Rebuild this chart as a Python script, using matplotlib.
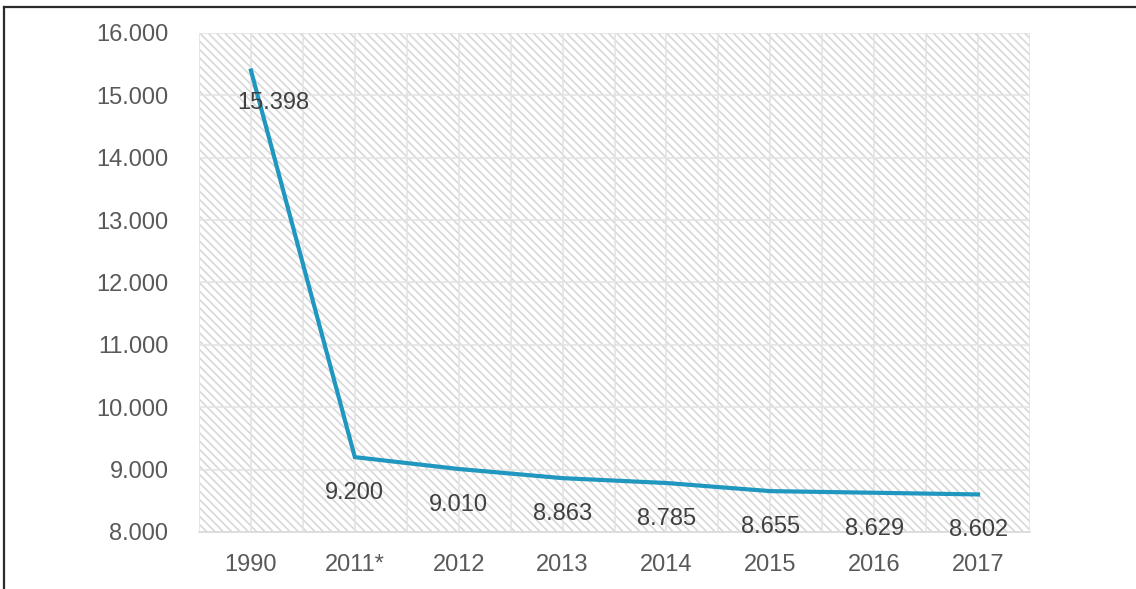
import matplotlib
matplotlib.use("Agg")
import matplotlib.pyplot as plt
import matplotlib.patches as mpatches
from matplotlib.lines import Line2D
from matplotlib.ticker import FuncFormatter
import numpy as np

# Werte je Jahr
years = ["1990", "2011*", "2012", "2013", "2014", "2015", "2016", "2017"]
values = [15398, 9200, 9010, 8863, 8785, 8655, 8629, 8602]

LINE_COLOR = "#1f97bf"
TEXT_COLOR = "#595959"
GRID_COLOR = "#e4e4e4"
HATCH_COLOR = "#d8d8d8"

plt.rcParams["font.family"] = ["Liberation Sans", "DejaVu Sans"]
plt.rcParams["hatch.linewidth"] = 1.2
plt.rcParams["hatch.color"] = HATCH_COLOR


def de_thousands(v, pos=None):
    return f"{v:,.0f}".replace(",", ".")


fig = plt.figure(figsize=(11.36, 5.89), dpi=100)
ax = fig.add_axes([0.1752, 0.0968, 0.7315, 0.8472])

x = np.arange(len(years))

# schraffierter Hintergrund
bg = mpatches.Rectangle((0, 0), 1, 1, transform=ax.transAxes,
                        facecolor="white", edgecolor=HATCH_COLOR,
                        hatch="\\\\\\\\", linewidth=0, zorder=0)
ax.add_patch(bg)

ax.plot(x, values, color=LINE_COLOR, linewidth=3.0, zorder=3,
        solid_joinstyle="miter")

# Datenbeschriftungen unter den Punkten
for i, v in enumerate(values):
    dx, dy = (22, -32) if i == 0 else (0, -36)
    ax.annotate(de_thousands(v), (x[i], v), xytext=(dx, dy),
                textcoords="offset pixels", ha="center", va="center",
                fontsize=17, color="#404040", zorder=4)

ax.set_xlim(-0.5, len(years) - 0.5)
ax.set_ylim(8000, 16000)
ax.set_yticks(np.arange(8000, 16001, 1000))
ax.yaxis.set_major_formatter(FuncFormatter(de_thousands))
ax.set_xticks(x)
ax.set_xticklabels(years)
ax.set_xticks(np.arange(-0.5, len(years), 1), minor=True)

ax.tick_params(axis="both", which="both", length=0, labelsize=17,
               labelcolor=TEXT_COLOR)
ax.tick_params(axis="y", pad=22)
ax.tick_params(axis="x", pad=16)

ax.grid(True, which="major", color=GRID_COLOR, linewidth=1.2, zorder=1)
ax.grid(True, which="minor", axis="x", color=GRID_COLOR, linewidth=1.2, zorder=1)
ax.set_axisbelow(True)
ax.patch.set_visible(False)

for side in ("top", "right", "left"):
    ax.spines[side].set_visible(False)
ax.spines["bottom"].set_color("#d9d9d9")
ax.spines["bottom"].set_linewidth(1.2)

# Rahmenlinien oben und links
fig.add_artist(Line2D([4 / 1136, 1], [1 - 7 / 589] * 2, color="#2a2a2a",
                      linewidth=1.6, transform=fig.transFigure))
fig.add_artist(Line2D([4 / 1136] * 2, [0, 1 - 7 / 589], color="#2a2a2a",
                      linewidth=1.6, transform=fig.transFigure))

fig.savefig("out.png", dpi=100)
